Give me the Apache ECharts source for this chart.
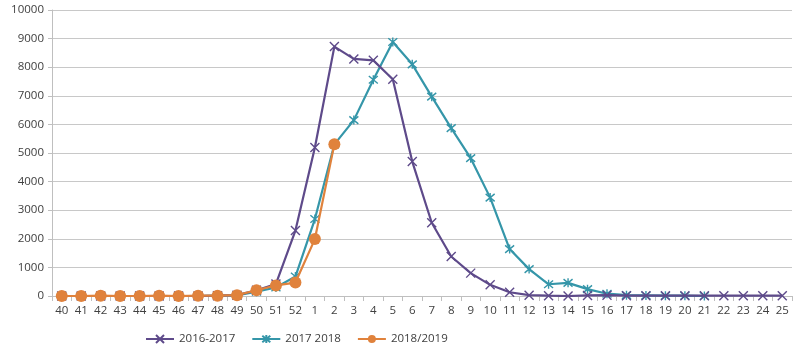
<!DOCTYPE html>
<html><head><meta charset="utf-8">
<script src="https://cdn.jsdelivr.net/npm/echarts@6/dist/echarts.min.js"></script>
<style>html,body{margin:0;padding:0;background:#fff}#c{width:800px;height:350px}</style>
</head><body><div id="c"></div>
<script>
const weeks = ['40','41','42','43','44','45','46','47','48','49','50','51','52','1','2','3','4','5','6','7','8','9','10','11','12','13','14','15','16','17','18','19','20','21','22','23','24','25'];
const s2016 = [0,0,0,0,0,0,0,0,10,30,200,420,2290,5190,8720,8290,8240,7580,4700,2560,1380,800,390,130,30,10,0,20,30,10,10,10,10,10,10,10,10,10];
const s2017 = [0,0,0,0,0,0,0,0,10,20,150,300,680,2690,5300,6150,7560,8880,8100,6970,5870,4820,3440,1640,940,410,460,240,80,30,20,10,10,0];
const s2018 = [0,0,10,0,0,10,0,10,10,30,200,370,470,1990,5310];
const yTicks = [0,1000,2000,3000,4000,5000,6000,7000,8000,9000,10000];

const xSym = 'path://M0,0L10,10M10,0L0,10';
const starSym = 'path://M0,0L10,10M10,0L0,10M5,-1L5,11';
const ff = '"Open Sans", sans-serif';

const chart = echarts.init(document.getElementById('c'), null, {renderer:'canvas'});
chart.setOption({
  animation:false,
  textStyle:{fontFamily:ff},
  grid:{left:52,right:8,top:10,bottom:54,containLabel:false},
  legend:{
    bottom:0,left:140,itemWidth:28,itemHeight:10,itemGap:16,
    textStyle:{fontSize:11.5,color:'#404040',fontFamily:ff},
    data:['2016-2017','2017 2018','2018/2019']
  },
  xAxis:{
    type:'category',data:weeks,boundaryGap:true,
    axisLine:{lineStyle:{color:'#bfbfbf'}},
    axisTick:{show:true,alignWithLabel:false,length:5,lineStyle:{color:'#bfbfbf'}},
    axisLabel:{color:'#404040',fontSize:11.5,margin:9,interval:0,fontFamily:ff}
  },
  yAxis:{
    type:'value',min:yTicks[0],max:yTicks[yTicks.length-1],interval:1000,
    axisLine:{show:true,lineStyle:{color:'#bfbfbf'}},
    axisTick:{show:true,length:4,lineStyle:{color:'#bfbfbf'}},
    axisLabel:{color:'#404040',fontSize:11.5,margin:8,fontFamily:ff,formatter:v=>String(v)},
    splitLine:{lineStyle:{color:'#c8c8c8',width:1}}
  },
  series:[
    {name:'2016-2017',type:'line',data:s2016,symbol:xSym,symbolSize:9,
     lineStyle:{color:'#5e4a8a',width:2.2},
     itemStyle:{color:'#5e4a8a',borderColor:'#5e4a8a',borderWidth:1.4},z:3},
    {name:'2017 2018',type:'line',data:s2017,symbol:starSym,symbolSize:9,
     lineStyle:{color:'#3596a9',width:2.2},
     itemStyle:{color:'#3596a9',borderColor:'#3596a9',borderWidth:1.4},z:2},
    {name:'2018/2019',type:'line',data:s2018,symbol:'circle',symbolSize:12,
     lineStyle:{color:'#e0823c',width:2.2},
     itemStyle:{color:'#e0823c'},z:4}
  ]
});
</script></body></html>
